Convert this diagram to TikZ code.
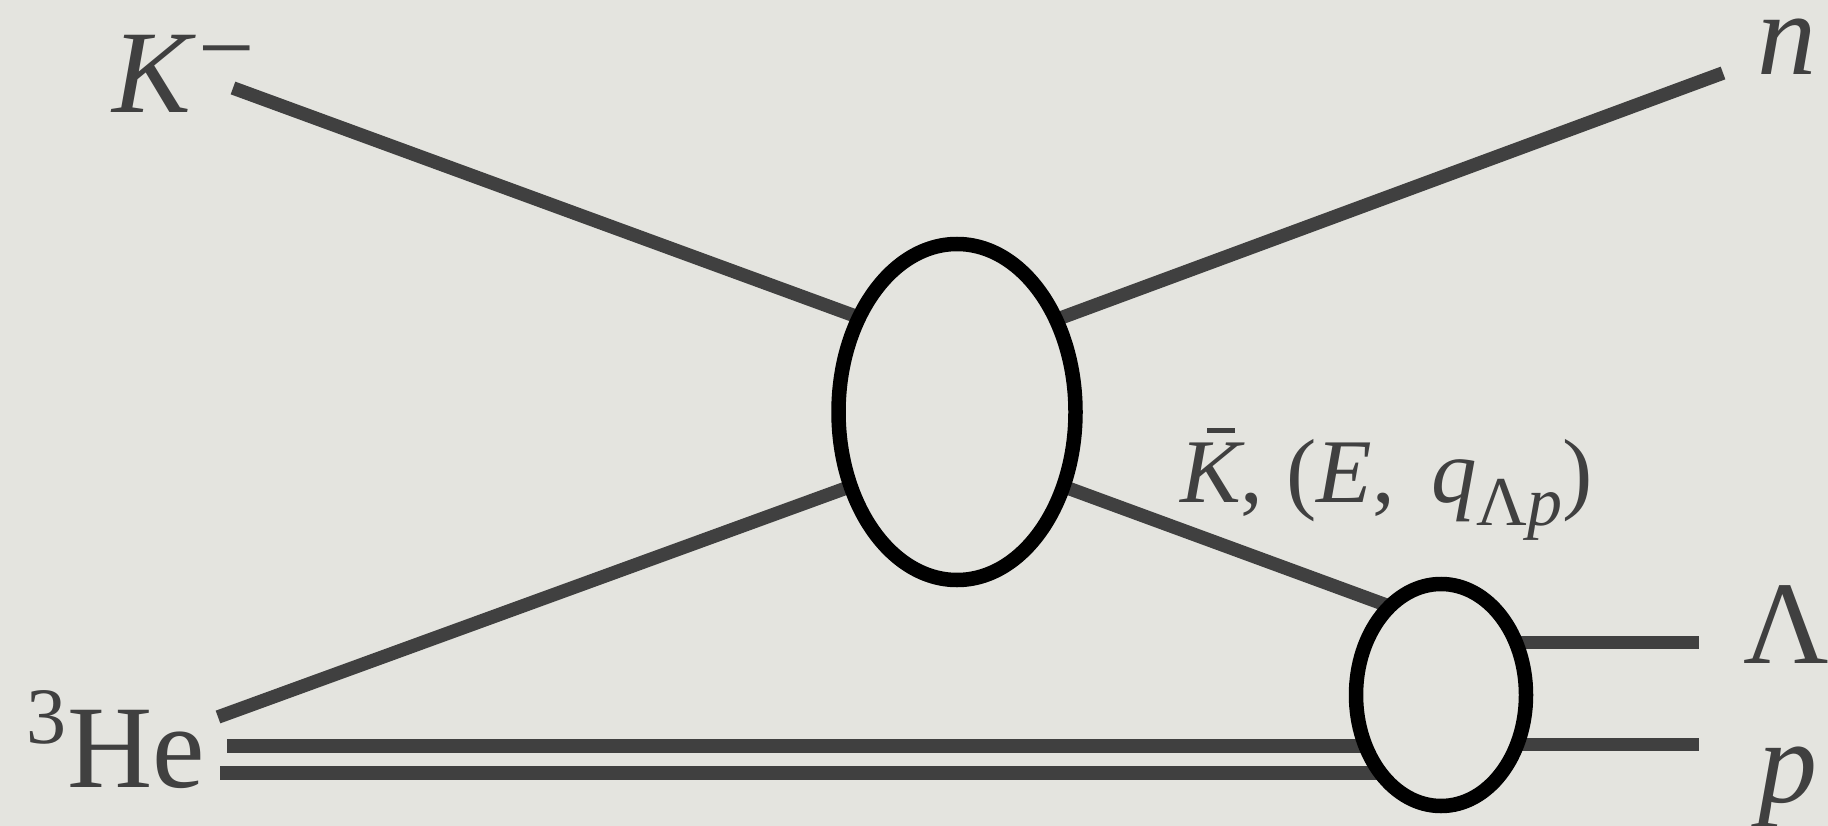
\documentclass[tikz,border=0pt]{standalone}
\usepackage{fontspec}
\setmainfont{Liberation Serif}
\usetikzlibrary{shapes.geometric}
\pgfdeclarelayer{bg}
\pgfdeclarelayer{lines}
\pgfsetlayers{bg,lines,main}
\definecolor{paper}{RGB}{228,228,223}
\definecolor{ink}{RGB}{64,64,64}
\newcommand{\kbarsym}{\makebox[0pt][l]{\hspace{27pt}\rule[69pt]{28pt}{5pt}}\textit{K}}
\begin{document}
\begin{tikzpicture}[x=1pt,y=-1pt,
  blob/.style={draw=black, line width=14.5pt, ellipse, inner sep=0pt, outer sep=0pt},
  leg/.style={draw=ink, line width=13.5pt},
  lbl/.style={text=ink, inner sep=0pt, outer sep=0pt, anchor=base west, font=\fontsize{118}{120}\selectfont}]
\useasboundingbox (0,0) rectangle (1828,826);
\begin{pgfonlayer}{bg}
  \fill[paper] (0,0) rectangle (1828,826);
\end{pgfonlayer}

% vertices
\node[blob, minimum width=237pt, minimum height=336pt] (big) at (957,412) {};
\node[blob, minimum width=170pt, minimum height=222pt] (small) at (1441,695) {};

% free ends
\coordinate (kmE) at (233,88);
\coordinate (nE) at (1723,73);
\coordinate (heE) at (218,717);
\coordinate (h1) at (227,746);
\coordinate (h2) at (220,773);
\coordinate (lamE) at (1699,642);
\coordinate (pE) at (1699,745);

\begin{pgfonlayer}{lines}
  \draw[leg] (kmE) -- (big.136);
  \draw[leg] (big.43) -- (nE);
  \draw[leg] (heE) -- (big.215);
  \draw[leg] (big.325) -- (small.120);
  \draw[leg] (h1) -- (h1 -| small.214);
  \draw[leg] (h2) -- (h2 -| small.232);
  \draw[leg] (small.35) -- (small.35 -| lamE);
  \draw[leg] (small.327) -- (small.327 -| pE);
\end{pgfonlayer}

% labels
\node[lbl] (km) at (112,113) {\textit{K}\hspace{3pt}\raisebox{31pt}{\fontsize{100}{100}\selectfont −}};
\node[lbl] (nn) at (1757,75) {\textit{n}};
\node[lbl] (he) at (27,787) {\raisebox{44pt}{\fontsize{80}{80}\selectfont 3}He};
\node[lbl] (lam) at (1743,663) {Λ};
\node[lbl] (pp) at (1758,802) {\textit{p}};
\node[lbl, font=\fontsize{91}{91}\selectfont] (kb) at (1180,502)
  {\kbarsym, (\textit{E},\hspace{0.4em}\textit{q}\raisebox{-23pt}{\fontsize{70}{70}\selectfont Λ\textit{p}})};
\end{tikzpicture}
\end{document}
